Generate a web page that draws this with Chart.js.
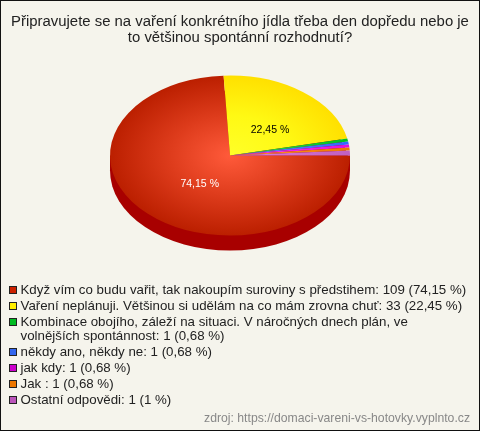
<!DOCTYPE html>
<html><head><meta charset="utf-8">
<script src="https://cdn.jsdelivr.net/npm/chart.js@4/dist/chart.umd.min.js"></script>
<style>
html,body{margin:0;padding:0;background:#f5f4ec;overflow:hidden}
#wrap{position:relative;width:480px;height:431px;background:#f5f4ec;font-family:"Liberation Sans",Arial,sans-serif}
#frame{position:absolute;left:0;top:0;width:480px;height:431px;box-sizing:border-box;border:1px solid #111;pointer-events:none}
canvas{position:absolute;left:0;top:0}
#legend{position:absolute;left:9px;top:283px;font-size:13.3px;line-height:14.4px;color:#222;white-space:pre}
.row{position:relative;padding-left:11.5px;margin-bottom:1.6px}
.sw{position:absolute;left:0;top:3px;width:6px;height:6px;border:1px solid #222}
#source{position:absolute;right:10px;top:411px;font-size:12.23px;color:#888;white-space:nowrap}
</style></head><body>
<div id="wrap">
<canvas id="c" width="480" height="431"></canvas>
<div id="legend"></div>
<div id="source"></div>
<div id="frame"></div>
</div>
<script>
const titleLines=["Připravujete se na vaření konkrétního jídla třeba den dopředu nebo je","to většinou spontánní rozhodnutí?"];
const categories=["Když vím co budu vařit, tak nakoupím suroviny s předstihem","Vaření neplánuji. Většinou si udělám na co mám zrovna chuť","Kombinace obojího, záleží na situaci. V náročných dnech plán, ve\nvolnějších spontánnost","někdy ano, někdy ne","jak kdy","Jak ","Ostatní odpovědi"];
const counts=[109,33,1,1,1,1,1];
const percentText=["74,15","22,45","0,68","0,68","0,68","0,68","1"];
const sliceValues=[74.15,22.45,0.6,0.6,0.6,0.6,1];
const sliceInner=["#ff5a3a","#ffff28","#30e050","#6688ff","#ff40ff","#ff9a20","#dd80dd"];
const sliceMid=["#de3c1c","#fff914","#18d038","#4d77ff","#ee28ee","#f68a18","#cf70cf"];
const sliceOuter=["#bb1f00","#ffe000","#00c020","#3366ff","#dd10dd","#ee7700","#c060c0"];
const swatches=["#cc2200","#ffee00","#00bb22","#3366ee","#cc00cc","#ee7700","#bb55bb"];
const sideColor="#a80000";
const sourceText="zdroj: https://domaci-vareni-vs-hotovky.vyplnto.cz";

const SQUASH=2/3, DEPTH=15, SHIFT=-10;
const sliceLabelPos={0:[0.367,0.49,"#ffffff"],1:[0.55,0.40,"#000000"]};

const pie3d={
 id:'pie3d',
 beforeDatasetsDraw(chart){
  const a=chart.getDatasetMeta(0).data[0],ctx=chart.ctx,ry=a.outerRadius*SQUASH;
  ctx.save();
  ctx.translate(SHIFT,0);
  ctx.fillStyle=sideColor;
  ctx.beginPath();
  ctx.ellipse(a.x,a.y+DEPTH,a.outerRadius,ry,0,0,Math.PI*2);
  ctx.fill();
  ctx.fillRect(a.x-a.outerRadius,a.y,a.outerRadius*2,DEPTH);
  ctx.restore();
  ctx.save();
  ctx.translate(SHIFT,a.y);ctx.scale(1,SQUASH);ctx.translate(0,-a.y);
 },
 afterDatasetsDraw(chart){
  const ctx=chart.ctx;
  ctx.restore();
  const arcs=chart.getDatasetMeta(0).data;
  ctx.save();
  ctx.font='10.5px "Liberation Sans"';ctx.textAlign='center';ctx.textBaseline='middle';
  Object.keys(sliceLabelPos).forEach(k=>{
   const arc=arcs[k],[fx,fy,col]=sliceLabelPos[k],mid=(arc.startAngle+arc.endAngle)/2;
   ctx.fillStyle=col;
   ctx.fillText(percentText[k]+" %",SHIFT+arc.x+Math.cos(mid)*arc.outerRadius*fx,arc.y+Math.sin(mid)*arc.outerRadius*SQUASH*fy);
  });
  ctx.restore();
 }
};

new Chart(document.getElementById('c'),{
 type:'pie',
 data:{labels:categories,datasets:[{
  data:sliceValues,
  borderWidth:0,
  clip:false,
  radius:120,
  backgroundColor(c){
   const a=c.chart.chartArea;
   if(!a)return sliceOuter[c.dataIndex];
   const x=(a.left+a.right)/2,y=(a.top+a.bottom)/2;
   const g=c.chart.ctx.createRadialGradient(x,y,0,x,y,120);
   g.addColorStop(0,sliceInner[c.dataIndex]);
   g.addColorStop(0.5,sliceMid[c.dataIndex]);
   g.addColorStop(1,sliceOuter[c.dataIndex]);
   return g;
  }
 }]},
 options:{
  responsive:false,animation:false,rotation:90,
  layout:{padding:{top:0,left:0,right:0,bottom:166.2}},
  plugins:{
   legend:{display:false},tooltip:{enabled:false},
   title:{display:true,text:titleLines,color:'#222',font:{family:'"Liberation Sans"',size:14.9,weight:'normal',lineHeight:1.1},padding:{top:13.5,bottom:0}}
  }
 },
 plugins:[pie3d]
});

const lg=document.getElementById('legend');
categories.forEach((n,i)=>{
 const r=document.createElement('div');r.className='row';
 const s=document.createElement('span');s.className='sw';s.style.background=swatches[i];
 r.appendChild(s);
 r.appendChild(document.createTextNode(n+": "+counts[i]+" ("+percentText[i]+" %)"));
 lg.appendChild(r);
});
document.getElementById('source').textContent=sourceText;
</script>
</body></html>
